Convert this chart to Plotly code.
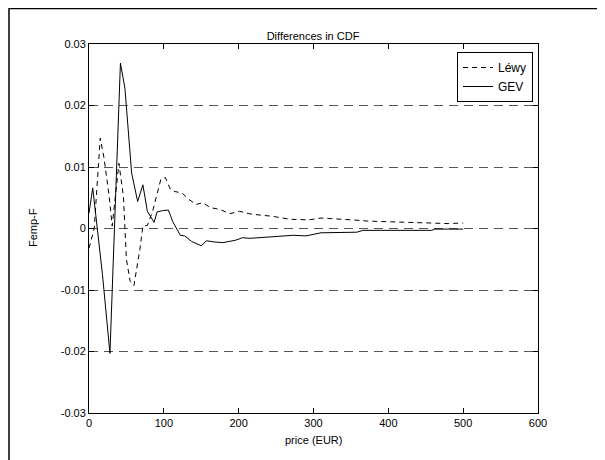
import plotly.graph_objects as go

# ---- data ----
gev_x = [0, 5, 18, 28, 42, 48, 57, 65, 72, 78, 87, 91, 98, 106, 112, 122, 128, 137, 150, 157,
         168, 179, 196, 205, 215, 231, 250, 273, 290, 310, 335, 358, 366, 400, 430, 458, 462, 480, 500]
gev_y = [0.0025, 0.0066, -0.0075, -0.0203, 0.0269, 0.0228, 0.009, 0.0044, 0.0071, 0.0028, 0.001,
         0.0027, 0.0029, 0.003, 0.0011, -0.0011, -0.0012, -0.0021, -0.0028, -0.002, -0.0022, -0.0023,
         -0.0019, -0.0015, -0.0016, -0.0015, -0.0013, -0.0011, -0.0012, -0.0007, -0.0007, -0.0006,
         -0.0003, -0.0003, -0.0003, -0.0003, -0.0001, -0.0001, -0.0001]

levy_x = [0, 7, 15, 20, 27, 31, 40, 46, 50, 55, 60, 68, 72, 78, 85, 96, 102, 109, 115, 124, 134,
          143, 152, 162, 175, 188, 201, 214, 227, 244, 269, 294, 310, 331, 352, 373, 394, 415, 436,
          457, 480, 500]
levy_y = [-0.0032, 0.0, 0.0147, 0.0115, 0.0052, 0.0004, 0.0106, 0.0052, -0.005, -0.0086, -0.0093,
          -0.0034, 0.0004, 0.0005, 0.0028, 0.008, 0.0083, 0.0063, 0.006, 0.0058, 0.0047, 0.0039,
          0.0042, 0.0034, 0.0031, 0.0024, 0.0028, 0.0024, 0.0022, 0.002, 0.0015, 0.0014, 0.0017,
          0.0016, 0.0014, 0.0012, 0.0011, 0.001, 0.0009, 0.0008, 0.0008, 0.0009]

x_ticks = [0, 100, 200, 300, 400, 500, 600]
y_ticks = [-0.03, -0.02, -0.01, 0, 0.01, 0.02, 0.03]
y_ticklabels = ["-0.03", "-0.02", "-0.01", "0", "0.01", "0.02", "0.03"]

FONT = "Liberation Sans, Arial, Helvetica, sans-serif"

# page body has an 8px margin; figure is sized to fit the window
OFF = 8
W, H = 605 - OFF, 460 - OFF
L, T = 89 - OFF, 44 - OFF
pw, ph = 449, 369
R, B = W - L - pw, H - T - ph

def px2paper(sx, sy):
    fx, fy = sx - OFF, sy - OFF
    return (fx - L) / pw, (T + ph - fy) / ph

fx0, fy1 = px2paper(9, 8.5)
fx1, fy0 = px2paper(602, 470)

lx, ly = px2paper(533, 52)

fig = go.Figure()
fig.add_trace(go.Scatter(x=levy_x, y=levy_y, mode="lines", name="Léwy",
                         line=dict(color="black", width=1, dash="5px,4px")))
fig.add_trace(go.Scatter(x=gev_x, y=gev_y, mode="lines", name="GEV",
                         line=dict(color="black", width=1)))

fig.update_layout(
    width=W, height=H,
    margin=dict(l=L, r=R, t=T, b=B),
    paper_bgcolor="white", plot_bgcolor="white",
    font=dict(family=FONT, size=11, color="black"),
    title=dict(text="Differences in CDF", x=(313 - OFF) / W, xanchor="center",
               y=1 - (36 - OFF) / H, yanchor="middle", font=dict(size=11, family=FONT)),
    showlegend=True,
    legend=dict(x=lx, y=ly, xanchor="right", yanchor="top",
                bordercolor="black", borderwidth=1, bgcolor="white",
                font=dict(size=12, family=FONT), tracegroupgap=0),
    xaxis=dict(range=[0, 600], tickvals=x_ticks, ticktext=[str(v) for v in x_ticks],
               showgrid=False, zeroline=False, showline=True, linecolor="black", linewidth=1,
               mirror="allticks", ticks="inside", ticklen=5, tickcolor="black",
               tickfont=dict(size=11)),
    yaxis=dict(range=[-0.03, 0.03], tickvals=y_ticks, ticktext=y_ticklabels,
               showgrid=True, gridcolor="#555555", gridwidth=1, griddash="9px,6px",
               zeroline=False, showline=True, linecolor="black", linewidth=1,
               mirror="allticks", ticks="inside", ticklen=5, tickcolor="black",
               tickfont=dict(size=11)),
    shapes=[dict(type="rect", xref="paper", yref="paper", x0=fx0, x1=fx1, y0=fy0, y1=fy1,
                 line=dict(color="black", width=1.5), fillcolor="rgba(0,0,0,0)", layer="below")],
    annotations=[
        dict(text="Femp-F", xref="paper", yref="paper", x=px2paper(33, 228)[0],
             y=px2paper(33, 228)[1], textangle=-90, showarrow=False,
             xanchor="center", yanchor="middle", font=dict(size=11)),
        dict(text="price (EUR)", xref="paper", yref="paper", x=px2paper(313, 440)[0],
             y=px2paper(313, 440)[1], showarrow=False,
             xanchor="center", yanchor="middle", font=dict(size=11)),
    ],
)

fig.write_html("out.html")
